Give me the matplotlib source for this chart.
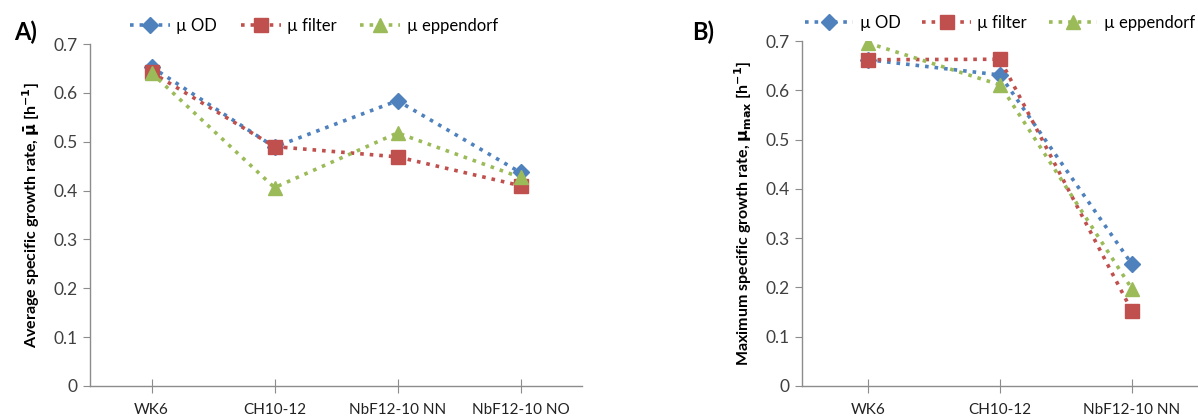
import matplotlib
matplotlib.use("Agg")
import matplotlib.pyplot as plt

plt.rcParams['font.family'] = ['Lato', 'DejaVu Sans']

cats_a = ["WK6", "CH10-12", "NbF12-10 NN", "NbF12-10 NO"]
od_a = [0.653, 0.489, 0.584, 0.437]
filter_a = [0.642, 0.490, 0.469, 0.410]
epp_a = [0.641, 0.406, 0.518, 0.427]

cats_b = ["WK6", "CH10-12", "NbF12-10 NN"]
od_b = [0.662, 0.631, 0.247]
filter_b = [0.662, 0.663, 0.152]
epp_b = [0.696, 0.611, 0.197]

series_names = ["µ OD", "µ filter", "µ eppendorf"]
colors = ["#4F81BD", "#C0504D", "#9BBB59"]
markers = ["D", "s", "^"]
msizes = [8, 10, 10]
yticks = [0, 0.1, 0.2, 0.3, 0.4, 0.5, 0.6, 0.7]
ytick_labels = ["0", "0.1", "0.2", "0.3", "0.4", "0.5", "0.6", "0.7"]

fig = plt.figure(figsize=(11.98, 4.18), dpi=100)
axA = fig.add_axes([90/1198, 1-386/418, (582-90)/1198, (386-44)/418])
axB = fig.add_axes([802/1198, 1-386/418, (1198-802)/1198, (386-41)/418])

def style(ax, cats, data, ylabel, legx, hl, cs):
    x = list(range(len(cats)))
    handles = []
    for vals, c, m, ms, name in zip(data, colors, markers, msizes, series_names):
        h, = ax.plot(x, vals, linestyle=':', linewidth=2.6, color=c, marker=m,
                     markersize=ms, markeredgecolor=c, label=name)
        handles.append(h)
    ax.set_xlim(-0.5, len(cats) - 0.5)
    ax.set_ylim(0, 0.7)
    ax.set_yticks(yticks)
    ax.set_yticklabels(ytick_labels, fontsize=12.5, color='#404040')
    ax.set_xticks(x)
    ax.set_xticklabels(cats, fontsize=11, color='#222222')
    for s in ['top', 'right']:
        ax.spines[s].set_visible(False)
    for s in ['left', 'bottom']:
        ax.spines[s].set_color('#8C8C8C')
        ax.spines[s].set_linewidth(1.0)
    ax.tick_params(axis='x', direction='inout', length=10, color='#8C8C8C', pad=7)
    ax.tick_params(axis='y', direction='out', length=5, color='#8C8C8C', pad=4)
    ax.set_ylabel(ylabel, fontsize=11.5, fontweight='bold', labelpad=8)
    ax.legend(handles=handles, loc='lower center', bbox_to_anchor=(legx, 1.0),
              ncol=3, frameon=False, fontsize=12, handlelength=hl,
              columnspacing=cs, handletextpad=0.4, borderaxespad=0.2)

style(axA, cats_a, [od_a, filter_a, epp_a],
      r"Average specific growth rate, $\mathbf{\bar{\mu}}$ [h$^{\mathbf{-1}}$]", 0.455, 2.4, 1.4)
style(axB, cats_b, [od_b, filter_b, epp_b],
      r"Maximum specific growth rate, $\mathbf{\mu_{max}}$ [h$^{\mathbf{-1}}$]", 0.5, 2.9, 1.3)

fig.text(14/1198, 1-32/418, "A)", fontsize=17, fontweight='bold', va='center')
fig.text(692/1198, 1-32/418, "B)", fontsize=17, fontweight='bold', va='center')

fig.savefig("out.png", dpi=100)
